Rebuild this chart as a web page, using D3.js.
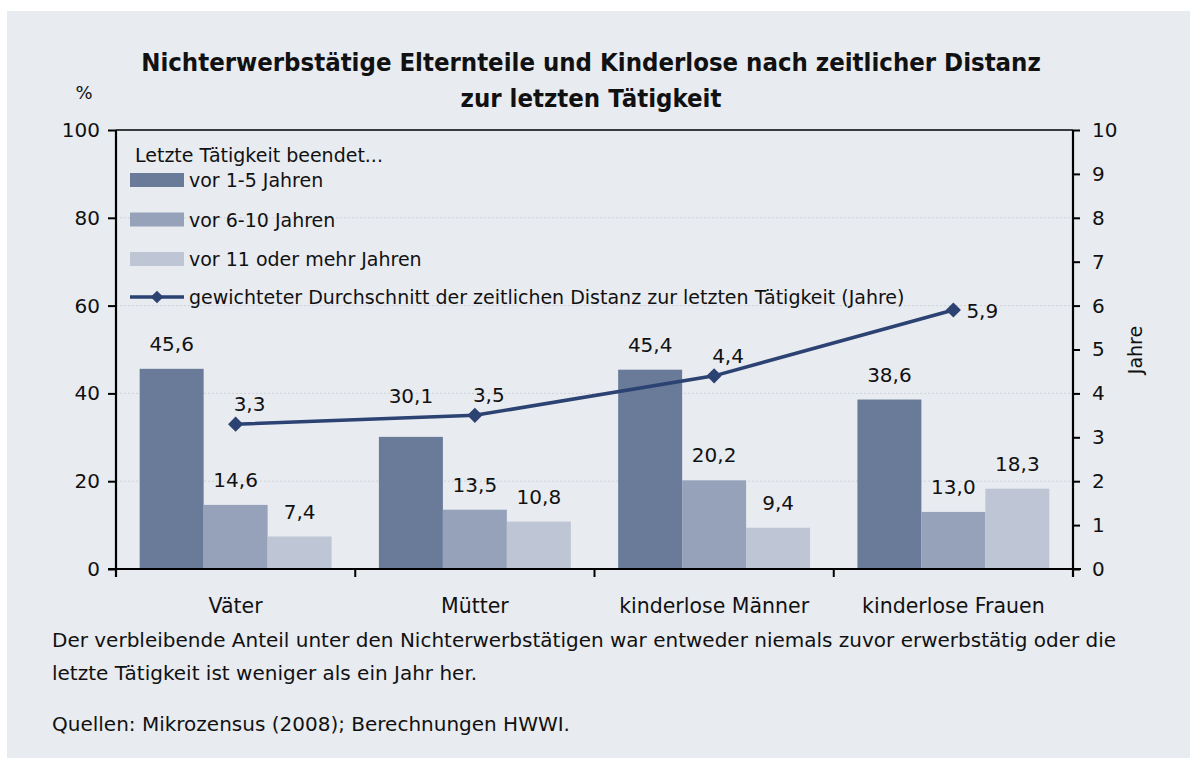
<!DOCTYPE html>
<html><head><meta charset="utf-8">
<script src="https://cdn.jsdelivr.net/npm/d3@7"></script>
<style>
html,body{margin:0;padding:0;background:#fff;}
svg{display:block;}
text{font-family:"DejaVu Sans",sans-serif;fill:#111;}
</style></head>
<body>
<script>
const categories = ["Väter", "Mütter", "kinderlose Männer", "kinderlose Frauen"];
const seriesNames = ["vor 1-5 Jahren", "vor 6-10 Jahren", "vor 11 oder mehr Jahren"];
const vor1bis5 = [45.6, 30.1, 45.4, 38.6];
const vor6bis10 = [14.6, 13.5, 20.2, 13.0];
const vor11mehr = [7.4, 10.8, 9.4, 18.3];
const durchschnittJahre = [3.3, 3.5, 4.4, 5.9];
const lineName = "gewichteter Durchschnitt der zeitlichen Distanz zur letzten Tätigkeit (Jahre)";
const leftTicks = [0, 20, 40, 60, 80, 100];
const rightTicks = [0,1,2,3,4,5,6,7,8,9,10];
const titleLines = ["Nichterwerbstätige Elternteile und Kinderlose nach zeitlicher Distanz", "zur letzten Tätigkeit"];
const legendTitle = "Letzte Tätigkeit beendet...";
const footLines = ["Der verbleibende Anteil unter den Nichterwerbstätigen war entweder niemals zuvor erwerbstätig oder die", "letzte Tätigkeit ist weniger als ein Jahr her."];
const sourceLine = "Quellen: Mikrozensus (2008); Berechnungen HWWI.";

const colors = ["#6a7a99", "#95a2b9", "#bec5d4"];
const lineColor = "#2b4272";
const fmt = v => d3.format(".1f")(v).replace(".", ",");
// extra lift (px) of individual bar labels, as placed in the original
const labelLift = [[0,0,0],[16,0,0],[0,0,0],[0,0,0]];

const W = 1190, H = 758;
const svg = d3.select("body").append("svg").attr("width", W).attr("height", H);
svg.append("rect").attr("x", 7).attr("y", 11).attr("width", W - 7).attr("height", H - 11).attr("fill", "#e8ebf0");

const L = 116, R = 1073, T = 130, B = 569;
const x0 = d3.scaleBand().domain(categories).range([L, R]).paddingInner(0).paddingOuter(0);
const x1 = d3.scaleBand().domain(seriesNames).range([0, x0.bandwidth()]).paddingInner(0).paddingOuter(0.37);
const y = d3.scaleLinear().domain([0, 100]).range([B, T]);
const y2 = d3.scaleLinear().domain([0, 10]).range([B, T]);

// title
svg.append("g").selectAll("text").data(titleLines).join("text")
  .attr("x", 591).attr("y", (d, i) => 71 + i * 36)
  .attr("text-anchor", "middle")
  .style("font-family", "'DejaVu Sans Condensed','DejaVu Sans',sans-serif")
  .style("font-weight", "bold").style("font-size", "25.5px")
  .text(d => d);

// gridlines
svg.append("g").selectAll("line").data([20, 40, 60, 80]).join("line")
  .attr("x1", L).attr("x2", R).attr("y1", d => y(d)).attr("y2", d => y(d))
  .attr("stroke", "#cfd2d8").attr("stroke-width", 1).attr("stroke-dasharray", "2,2");

// bars
const data = categories.map((c, i) => ({ c, i, vals: [vor1bis5[i], vor6bis10[i], vor11mehr[i]] }));
const groups = svg.append("g").selectAll("g").data(data).join("g")
  .attr("transform", d => `translate(${x0(d.c)},0)`);
groups.selectAll("rect").data(d => d.vals.map((v, j) => ({ v, s: seriesNames[j], j }))).join("rect")
  .attr("x", d => x1(d.s)).attr("width", x1.bandwidth())
  .attr("y", d => y(d.v)).attr("height", d => B - y(d.v))
  .attr("fill", d => colors[d.j]);
groups.selectAll("text").data(d => d.vals.map((v, j) => ({ v, s: seriesNames[j], lift: labelLift[d.i][j] }))).join("text")
  .attr("x", d => x1(d.s) + x1.bandwidth() / 2).attr("y", d => y(d.v) - 18 - d.lift)
  .attr("text-anchor", "middle").style("font-size", "20px")
  .text(d => fmt(d.v));

// axes frame
const axisG = svg.append("g").attr("stroke", "#000").attr("stroke-width", 2.2);
axisG.append("line").attr("x1", L).attr("x2", R).attr("y1", T).attr("y2", T).attr("stroke-width", 1.5);
axisG.append("line").attr("x1", L).attr("x2", L).attr("y1", T).attr("y2", B + 8);
axisG.append("line").attr("x1", R).attr("x2", R).attr("y1", T).attr("y2", B + 8);
axisG.append("line").attr("x1", L - 8).attr("x2", R + 8).attr("y1", B).attr("y2", B);

const yAxis = d3.axisLeft(y).tickValues(leftTicks).tickSize(8).tickPadding(8);
const gy = svg.append("g").attr("transform", `translate(${L},0)`).call(yAxis);
const y2Axis = d3.axisRight(y2).tickValues(rightTicks).tickSize(7).tickPadding(12);
const gy2 = svg.append("g").attr("transform", `translate(${R},0)`).call(y2Axis);
[gy, gy2].forEach(g => {
  g.select(".domain").remove();
  g.selectAll(".tick line").attr("stroke", "#000").attr("stroke-width", 2);
  g.selectAll(".tick text").style("font-size", "20px").style("font-family", "'DejaVu Sans',sans-serif").attr("fill", "#111");
});

// category boundary ticks
const bounds = categories.map(c => x0(c)).concat([R]);
svg.append("g").selectAll("line").data(bounds).join("line")
  .attr("x1", d => d).attr("x2", d => d).attr("y1", B).attr("y2", B + 8)
  .attr("stroke", "#000").attr("stroke-width", 2);

// category labels
svg.append("g").selectAll("text").data(categories).join("text")
  .attr("x", d => x0(d) + x0.bandwidth() / 2).attr("y", 613)
  .attr("text-anchor", "middle").style("font-size", "20.5px")
  .text(d => d);

// axis titles
svg.append("text").attr("x", 84).attr("y", 99).attr("text-anchor", "middle").style("font-size", "18px").text("%");
svg.append("text").attr("transform", "translate(1142,350) rotate(-90)").attr("text-anchor", "middle").style("font-size", "19px").text("Jahre");

// line
const cx = c => x0(c) + x0.bandwidth() / 2;
const pts = categories.map((c, i) => ({ c, v: durchschnittJahre[i], last: i === categories.length - 1 }));
svg.append("path").datum(pts)
  .attr("d", d3.line().x(d => cx(d.c)).y(d => y2(d.v)))
  .attr("fill", "none").attr("stroke", lineColor).attr("stroke-width", 3.5);
svg.append("g").selectAll("path").data(pts).join("path")
  .attr("transform", d => `translate(${cx(d.c)},${y2(d.v)}) rotate(45)`)
  .attr("d", d3.symbol(d3.symbolSquare, 115)())
  .attr("fill", lineColor);
svg.append("g").selectAll("text").data(pts).join("text")
  .attr("x", d => d.last ? cx(d.c) + 13 : cx(d.c) - 2)
  .attr("y", d => d.last ? y2(d.v) + 8 : y2(d.v) - 13)
  .attr("text-anchor", "start").style("font-size", "20px")
  .text(d => fmt(d.v));

// legend
const lg = svg.append("g");
lg.append("text").attr("x", 135).attr("y", 162).style("font-size", "19px").text(legendTitle);
const lrows = lg.selectAll("g.row").data(seriesNames).join("g").attr("class", "row")
  .attr("transform", (d, i) => `translate(130,${180 + i * 39.5})`);
lrows.append("rect").attr("x", 0).attr("y", -7).attr("width", 54).attr("height", 14).attr("fill", (d, i) => colors[i]);
lrows.append("text").attr("x", 59).attr("y", 7).style("font-size", "19px").text(d => d);
const ll = lg.append("g").attr("transform", "translate(130,297)");
ll.append("line").attr("x1", 0).attr("x2", 54).attr("y1", 0).attr("y2", 0).attr("stroke", lineColor).attr("stroke-width", 3.5);
ll.append("path").attr("transform", "translate(27,0) rotate(45)").attr("d", d3.symbol(d3.symbolSquare, 80)()).attr("fill", lineColor);
ll.append("text").attr("x", 59).attr("y", 7).style("font-size", "19px").text(lineName);

// footer
svg.append("g").selectAll("text").data(footLines).join("text")
  .attr("x", 52).attr("y", (d, i) => 647 + i * 33).style("font-size", "20px").text(d => d);
svg.append("text").attr("x", 52).attr("y", 731).style("font-size", "20px").text(sourceLine);
</script>
</body></html>
